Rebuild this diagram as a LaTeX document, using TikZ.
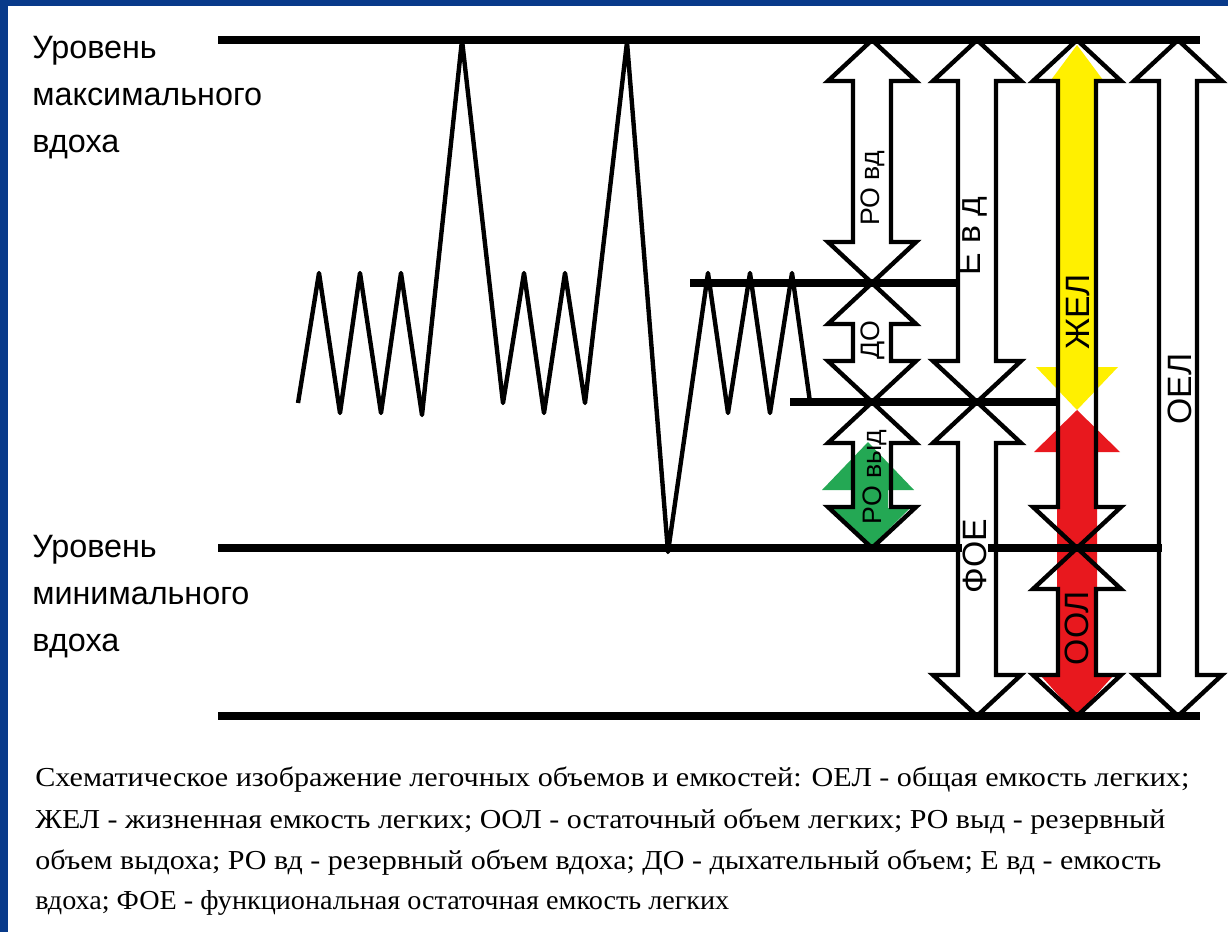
\documentclass[tikz,border=0pt]{standalone}
\usepackage{fontspec}
\setmainfont{Liberation Serif}
\setsansfont{Liberation Sans}
\usepackage{graphicx}
\definecolor{frameblue}{RGB}{8,58,138}
\definecolor{zhelyellow}{RGB}{255,240,0}
\definecolor{oolred}{RGB}{232,24,30}
\definecolor{rogreen}{RGB}{36,168,84}

\begin{document}
\begin{tikzpicture}[x=0.25mm, y=-0.25mm,
    level/.style={line width=2mm},
    breath/.style={line width=1.1mm, line join=round},
    blockarrow/.style={line width=1.1mm, line join=miter},
    vol/.style={rotate=90, inner sep=0pt, font=\sffamily\fontsize{19pt}{19pt}\selectfont},
    bigvol/.style={vol, font=\sffamily\fontsize{24pt}{24pt}\selectfont},
    side/.style={anchor=west, inner sep=0pt, align=left, font=\sffamily\fontsize{23pt}{33.4pt}\selectfont},
    capline/.style={anchor=west, inner sep=0pt, font=\rmfamily\fontsize{19.5pt}{19.5pt}\selectfont}]
  \useasboundingbox (0,0) rectangle (1228,932);
  \fill[frameblue] (0,0) rectangle (1228,932);
  \fill[white] (8,6) rectangle (1228,932);

  % coloured volumes
  \fill[zhelyellow] (1077,45) -- (1103,80) -- (1095,80) -- (1095,367) -- (1118,367) -- (1077,410) -- (1036,367) -- (1059,367) -- (1059,80) -- (1051,80) -- cycle;
  \fill[oolred] (1077,410) -- (1120,452) -- (1097,452) -- (1097,677) -- (1112,677) -- (1077,716) -- (1042,677) -- (1057,677) -- (1057,452) -- (1034,452) -- cycle;
  \fill[rogreen] (868,442) -- (914,490) -- (888,490) -- (888,508) -- (910,508) -- (870,548) -- (830,508) -- (852,508) -- (852,490) -- (822,490) -- cycle;

  % levels
  \draw[level] (218,40) -- (1200,40);
  \draw[level] (690,283) -- (957,283);
  \draw[level] (790,402) -- (1058,402);
  \draw[level] (218,548) -- (1162,548);
  \draw[level] (218,716) -- (1200,716);

  % spirogram
  \draw[breath] (298,403) -- (319,273) -- (340,413) -- (360,273) -- (381,413) -- (401,273) -- (422,415)
    -- (462,40) -- (503,403) -- (524,273) -- (544,413) -- (565,273) -- (585,403)
    -- (627,42) -- (668,552) -- (708,273) -- (728,413) -- (750,273) -- (770,413) -- (792,273) -- (810,402);

  % volume arrows
  \foreach \x/\ya/\yb in {872/40/283, 872/283/402, 872/402/548, 977/40/402, 977/402/716,
      1077/40/548, 1077/548/716, 1178/40/716}
    \draw[blockarrow] (\x,\ya) -- (\x+44,\ya+41) -- (\x+19,\ya+41) -- (\x+19,\yb-41) -- (\x+44,\yb-41)
      -- (\x,\yb) -- (\x-44,\yb-41) -- (\x-19,\yb-41) -- (\x-19,\ya+41) -- (\x-44,\ya+41) -- cycle;

  \node[vol] (rovd) at (873,188) {РО вд};
  \node[vol] (do) at (873,340) {ДО};
  \node[vol] (rovyd) at (875,477) {РО выд};
  \node[bigvol] (evd) at (972,236) {Е в д};
  \node[bigvol, fill=white, inner sep=1pt] (foe) at (975,556) {ФОЕ};
  \node[bigvol] (zhel) at (1078,312) {ЖЕЛ};
  \node[bigvol] (ool) at (1077,628) {ООЛ};
  \node[bigvol] (oel) at (1180,389) {ОЕЛ};

  \node[side] (maxin) at (32,98) {Уровень\\максимального\\вдоха};
  \node[side] (minin) at (32,597) {Уровень\\минимального\\вдоха};

  \node[capline] (cap1) at (35,780) {\resizebox{288.5mm}{\height}{Схематическое изображение легочных объемов и емкостей: ОЕЛ - общая емкость легких;}};
  \node[capline] (cap2) at (35,822) {\resizebox{282.5mm}{\height}{ЖЕЛ - жизненная емкость легких; ООЛ - остаточный объем легких; РО выд - резервный}};
  \node[capline] (cap3) at (35,863) {\resizebox{281.5mm}{\height}{объем выдоха; РО вд - резервный объем вдоха; ДО - дыхательный объем; Е вд - емкость}};
  \node[capline] (cap4) at (35,903) {\resizebox{173.5mm}{\height}{вдоха; ФОЕ - функциональная остаточная емкость легких}};
\end{tikzpicture}
\end{document}
